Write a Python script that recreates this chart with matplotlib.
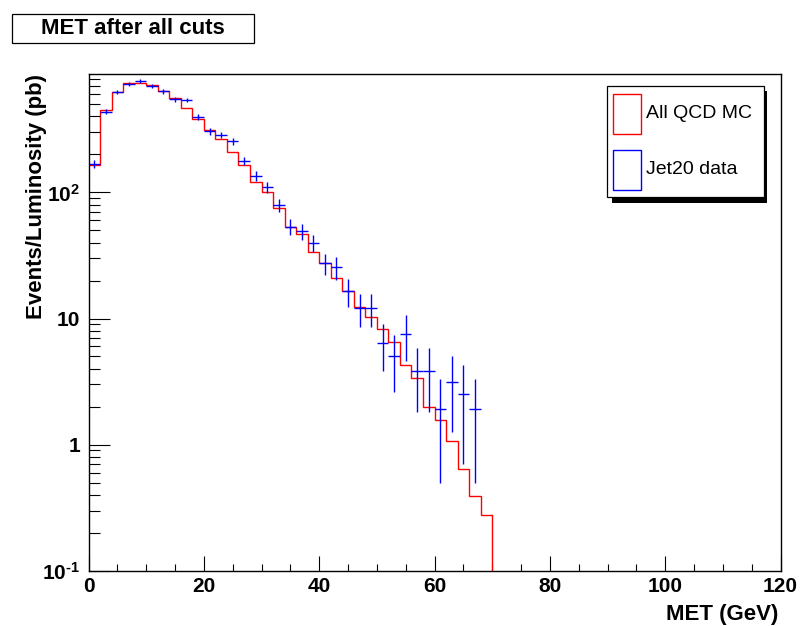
import numpy as np
import matplotlib
matplotlib.use('Agg')
import matplotlib.pyplot as plt
from matplotlib.patches import Rectangle
from matplotlib.ticker import FixedLocator, FixedFormatter, LogLocator, MultipleLocator, NullFormatter

# DATA
bin_width = 2.0
mc_edges = np.arange(0, 72, 2)
mc_values = [165, 450, 630, 740, 740, 716, 637, 557, 467, 385, 312, 263, 209, 165,
             120, 101, 75, 53.5, 47, 33.5, 27.4, 21.1, 16.5, 12.4, 10.2, 8.2, 6.5,
             4.26, 3.38, 1.99, 1.58, 1.06, 0.645, 0.389, 0.278]
data_x = np.arange(1, 69, 2)
data_values = [169, 437, 625, 720, 765, 703, 633, 547, 540, 396, 305, 287, 255, 178,
               135, 110, 79, 53.5, 49, 40, 27.3, 25.5, 16.5, 12.1, 12.1, 6.4, 5.0,
               7.6, 3.8, 3.8, 1.9, 3.15, 2.5, 1.9]
data_errors = [13, 21, 25, 27, 28, 27, 25, 23, 23, 20, 17.5, 17, 16, 13.3, 11.6, 10.5,
               8.9, 7.6, 6.8, 6.2, 5.2, 5.3, 4.1, 3.6, 3.6, 2.6, 2.4, 3.0, 2.0, 2.0,
               1.4, 1.9, 1.8, 1.4]
y_ticks = [0.1, 1, 10, 100]
y_ticklabels = [r'$10^{\text{-}1}$', '1', '10', r'$10^{2}$']

plt.rcParams['font.family'] = 'Liberation Sans'
plt.rcParams['mathtext.fontset'] = 'custom'
plt.rcParams['mathtext.rm'] = 'Liberation Sans:bold'
plt.rcParams['mathtext.it'] = 'Liberation Sans:bold'
plt.rcParams['mathtext.bf'] = 'Liberation Sans:bold'

W, H = 802, 626
fig = plt.figure(figsize=(W / 100, H / 100), dpi=100)


def fx(x):
    return x / W


def fy(y):
    return 1 - y / H


ax = fig.add_axes([fx(88.5), fy(570.7), fx(780.5 - 88.5), (570.7 - 73.5) / H])
ymin = 0.1
ymax = 10 ** ((570.7 - 73.5) / 126.1 - 1)

# MC histogram (step) and drop to the axis at the last edge
ax.stairs(mc_values, mc_edges, baseline=None, color='red', linewidth=1.0)
ax.plot([mc_edges[-1], mc_edges[-1]], [mc_values[-1], ymin], color='red', linewidth=1.0)

# data with error bars
ax.errorbar(data_x, data_values, yerr=data_errors, xerr=bin_width / 2, fmt='none',
            ecolor='blue', elinewidth=1.0, capsize=0)

ax.set_xlim(0, 120)
ax.set_yscale('log')
ax.set_ylim(ymin, ymax)

ax.xaxis.set_major_locator(MultipleLocator(20))
ax.xaxis.set_minor_locator(MultipleLocator(5))
ax.yaxis.set_major_locator(FixedLocator(y_ticks))
ax.yaxis.set_major_formatter(FixedFormatter(y_ticklabels))
ax.yaxis.set_minor_locator(LogLocator(base=10, subs=np.arange(2, 10)))
ax.yaxis.set_minor_formatter(NullFormatter())

ax.tick_params(axis='both', which='both', direction='in', top=False, right=False,
               width=0.8, colors='black')
ax.tick_params(axis='x', which='major', length=10.8, pad=4.5, labelsize=15)
ax.tick_params(axis='x', which='minor', length=5.4)
ax.tick_params(axis='y', which='major', length=15, pad=6, labelsize=15)
ax.tick_params(axis='y', which='minor', length=7.9)
for lab in ax.get_xticklabels() + ax.get_yticklabels():
    lab.set_fontweight('bold')
for s in ax.spines.values():
    s.set_linewidth(1.0)

# axis titles
fig.text(fx(778), fy(620), 'MET (GeV)', ha='right', va='baseline',
         fontsize=16, fontweight='bold')
fig.text(fx(37), fy(74), 'Events/Luminosity (pb)', ha='center', va='top',
         rotation=90, fontsize=16, fontweight='bold')

# title box
fig.add_artist(Rectangle((fx(11.7), fy(43.3)), fx(254 - 11.7), (43.3 - 14.3) / H,
                         transform=fig.transFigure, facecolor='white',
                         edgecolor='black', linewidth=0.9))
fig.text(fx(133), fy(29), 'MET after all cuts', ha='center', va='center',
         fontsize=16, fontweight='bold')

# legend with shadow
fig.add_artist(Rectangle((fx(612), fy(202.5)), fx(767 - 612), (202.5 - 91) / H,
                         transform=fig.transFigure, facecolor='black',
                         edgecolor='black', linewidth=0))
fig.add_artist(Rectangle((fx(606.7), fy(197)), fx(764 - 606.7), (197 - 86) / H,
                         transform=fig.transFigure, facecolor='white',
                         edgecolor='black', linewidth=0.9))
fig.add_artist(Rectangle((fx(612.7), fy(134)), fx(28), 40 / H,
                         transform=fig.transFigure, facecolor='none',
                         edgecolor='red', linewidth=1.0))
fig.add_artist(Rectangle((fx(612.7), fy(190)), fx(28), 40 / H,
                         transform=fig.transFigure, facecolor='none',
                         edgecolor='blue', linewidth=1.0))
fig.text(fx(645.5), fy(114), 'All QCD MC', ha='left', va='center', fontsize=14)
fig.text(fx(645.5), fy(170), 'Jet20 data', ha='left', va='center', fontsize=14)

fig.savefig('out.png', dpi=100)
